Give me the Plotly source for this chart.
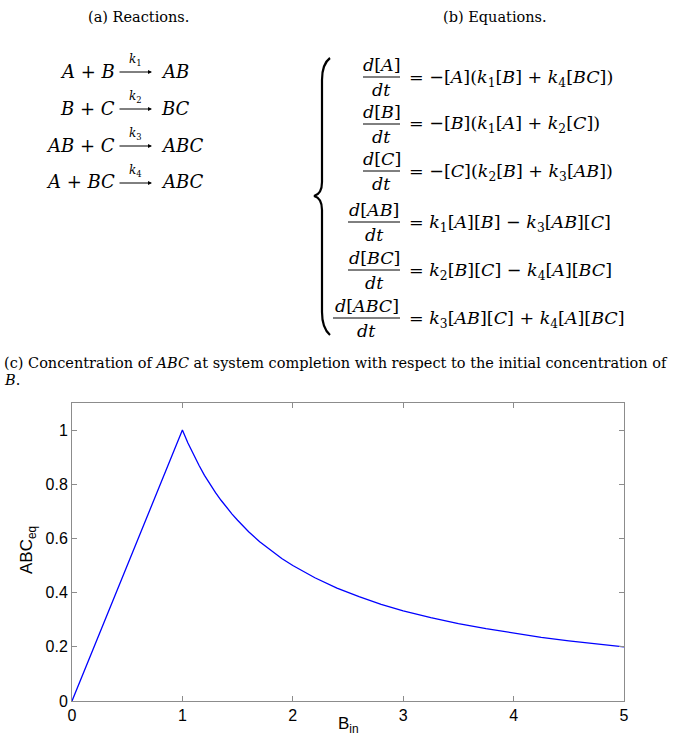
import plotly.graph_objects as go

# ---------------- data ----------------
B_in = [0, 0.25, 0.5, 0.75, 1.0, 1.05, 1.1, 1.15, 1.2, 1.25, 1.3, 1.35, 1.4,
        1.45, 1.5, 1.6, 1.7, 1.8, 1.9, 2.0, 2.2, 2.4, 2.6, 2.8, 3.0, 3.25,
        3.5, 3.75, 4.0, 4.25, 4.5, 4.75, 5.0]
ABC_eq = [0, 0.25, 0.5, 0.75, 1.0, 0.952, 0.909, 0.87, 0.833, 0.8, 0.769,
          0.741, 0.714, 0.69, 0.667, 0.625, 0.588, 0.556, 0.526, 0.5, 0.455,
          0.417, 0.385, 0.357, 0.333, 0.308, 0.286, 0.267, 0.25, 0.235, 0.222,
          0.211, 0.2]
x_ticks = [0, 1, 2, 3, 4, 5]
y_ticks = [0, 0.2, 0.4, 0.6, 0.8, 1]
y_tick_text = ["0", "0.2", "0.4", "0.6", "0.8", "1"]

reactions_left = ["<i>A</i> + <i>B</i>", "<i>B</i> + <i>C</i>",
                  "<i>AB</i> + <i>C</i>", "<i>A</i> + <i>BC</i>"]
reactions_right = ["<i>AB</i>", "<i>BC</i>", "<i>ABC</i>", "<i>ABC</i>"]
rate_labels = ["<i>k</i><sub>1</sub>", "<i>k</i><sub>2</sub>",
               "<i>k</i><sub>3</sub>", "<i>k</i><sub>4</sub>"]

eq_num = ["<i>d</i>[<i>A</i>]", "<i>d</i>[<i>B</i>]", "<i>d</i>[<i>C</i>]",
          "<i>d</i>[<i>AB</i>]", "<i>d</i>[<i>BC</i>]", "<i>d</i>[<i>ABC</i>]"]
eq_rhs = [
    "= −[<i>A</i>](<i>k</i><sub>1</sub>[<i>B</i>] + <i>k</i><sub>4</sub>[<i>BC</i>])",
    "= −[<i>B</i>](<i>k</i><sub>1</sub>[<i>A</i>] + <i>k</i><sub>2</sub>[<i>C</i>])",
    "= −[<i>C</i>](<i>k</i><sub>2</sub>[<i>B</i>] + <i>k</i><sub>3</sub>[<i>AB</i>])",
    "= <i>k</i><sub>1</sub>[<i>A</i>][<i>B</i>] − <i>k</i><sub>3</sub>[<i>AB</i>][<i>C</i>]",
    "= <i>k</i><sub>2</sub>[<i>B</i>][<i>C</i>] − <i>k</i><sub>4</sub>[<i>A</i>][<i>BC</i>]",
    "= <i>k</i><sub>3</sub>[<i>AB</i>][<i>C</i>] + <i>k</i><sub>4</sub>[<i>A</i>][<i>BC</i>]",
]
eq_bar_width = [37, 37, 37, 52, 52, 67]

# ---------------- layout geometry ----------------
W, H = 678, 737
L, R, T, Bm = 72, 54, 403, 36
PW, PH = W - L - R, H - T - Bm


def px(x):
    return (x - L) / PW


def py(y):
    return (H - Bm - y) / PH


SERIF = "DejaVu Serif, Liberation Serif, serif"
SANS = "Liberation Sans, Arial, sans-serif"

fig = go.Figure()
fig.add_trace(go.Scatter(x=B_in, y=ABC_eq, mode="lines",
                         line=dict(color="#0000ff", width=1.3),
                         showlegend=False, hoverinfo="skip"))

ann = []
shapes = []


def text(x, y, s, size=16, xa="center", ya="middle", font=SERIF):
    ann.append(dict(x=px(x), y=py(y), xref="paper", yref="paper", text=s,
                    showarrow=False, xanchor=xa, yanchor=ya,
                    font=dict(family=font, size=size, color="black")))


# headings
text(138, 17, "(a) Reactions.", size=14.5)
text(495, 17, "(b) Equations.", size=14.5)

# reactions
r_y = [71, 108, 145, 182]
for yy, lft, rgt, k in zip(r_y, reactions_left, reactions_right, rate_labels):
    text(117, yy, lft, size=18, xa="right")
    text(159, yy, rgt, size=18, xa="left")
    text(135, yy - 11, k, size=12)
    ann.append(dict(x=px(152), y=py(yy + 1), xref="paper", yref="paper",
                    ax=-34, ay=0, axref="pixel", ayref="pixel",
                    text="", showarrow=True, arrowhead=2, arrowsize=0.8,
                    arrowwidth=1, arrowcolor="black"))

# equations
e_y = [77, 124, 171, 222, 270, 318]
for yy, num, rhs, bw in zip(e_y, eq_num, eq_rhs, eq_bar_width):
    cx = 400 - bw / 2
    text(cx, yy - 12, num, size=17.5)
    text(cx, yy + 13, "<i>dt</i>", size=17.5)
    shapes.append(dict(type="line", xref="paper", yref="paper",
                       x0=px(400 - bw), x1=px(400), y0=py(yy), y1=py(yy),
                       line=dict(color="black", width=1)))
    text(407, yy + 1, rhs, size=17.5, xa="left")

# curly brace
pts = [(330, 58), (322, 64), (322, 80), (322, 182), (322, 194), (314, 196),
       (322, 198), (322, 210), (322, 312), (322, 328), (330, 335)]
p = [(px(a), py(b)) for a, b in pts]
path = ("M {0[0]} {0[1]} Q {1[0]} {1[1]} {2[0]} {2[1]} L {3[0]} {3[1]} "
        "Q {4[0]} {4[1]} {5[0]} {5[1]} Q {6[0]} {6[1]} {7[0]} {7[1]} "
        "L {8[0]} {8[1]} Q {9[0]} {9[1]} {10[0]} {10[1]}").format(*p)
shapes.append(dict(type="path", xref="paper", yref="paper", path=path,
                   line=dict(color="black", width=2.2)))

# caption
text(2, 363, "(c) Concentration of <i>ABC</i> at system completion with respect "
     "to the initial concentration of", size=14.5, xa="left")
text(2, 380, "<i>B</i>.", size=14.5, xa="left")

# axis titles
text(28, 550, "ABC<sub>eq</sub>", size=17, font=SANS)
ann[-1]["textangle"] = -90
text(348, 725, "B<sub>in</sub>", size=17, font=SANS)

axis_common = dict(showgrid=False, zeroline=False, showline=True,
                   linecolor="#8c8c8c", linewidth=1, mirror="ticks",
                   ticks="inside", ticklen=5, tickcolor="#8c8c8c",
                   tickfont=dict(family=SANS, size=16, color="black"))

fig.update_layout(
    width=W, height=H,
    margin=dict(l=L, r=R, t=T, b=Bm, pad=0),
    paper_bgcolor="white", plot_bgcolor="white",
    xaxis=dict(range=[0, 5], tickvals=x_ticks, ticktext=[str(v) for v in x_ticks],
               **axis_common),
    yaxis=dict(range=[0, 1.1], tickvals=y_ticks, ticktext=y_tick_text,
               **axis_common),
    annotations=ann, shapes=shapes,
)

fig.write_html("out.html",
               config={"displayModeBar": False},
               post_script="document.body.style.margin='0';"
                           "document.body.style.overflow='hidden';")
